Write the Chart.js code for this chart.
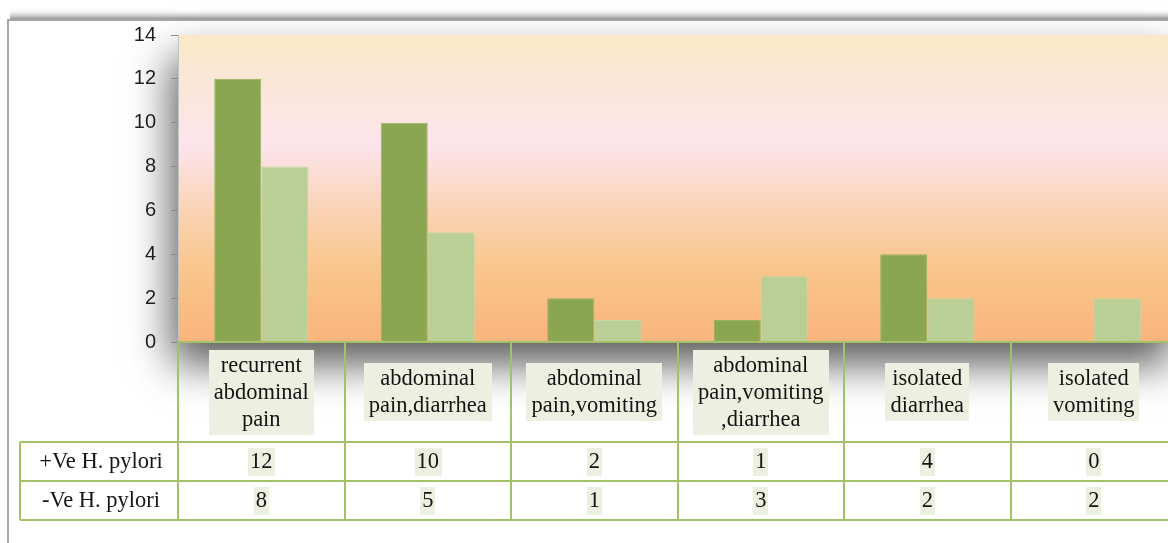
<!DOCTYPE html>
<html lang="en">
<head>
<meta charset="UTF-8">
<title>Symptoms by H. pylori status</title>
<script src="https://cdn.jsdelivr.net/npm/chart.js"></script>
<style>
  html, body { margin: 0; padding: 0; background: #fff; overflow: hidden; }
  #wrap { width: 1180px; height: 543px; }
</style>
</head>
<body>
<div id="wrap"><canvas id="symptomChart" width="1180" height="543"></canvas></div>
<script>
// category labels, one entry per line as they wrap in the table header
const categories = [
  ['recurrent', 'abdominal', 'pain'],
  ['abdominal', 'pain,diarrhea'],
  ['abdominal', 'pain,vomiting'],
  ['abdominal', 'pain,vomiting', ',diarrhea'],
  ['isolated', 'diarrhea'],
  ['isolated', 'vomiting']
];
const seriesNames = ['+Ve H. pylori', '-Ve H. pylori'];
const positiveCounts = [12, 10, 2, 1, 4, 0];
const negativeCounts = [8, 5, 1, 3, 2, 2];
const yMax = 14;
const yStep = 2;

const seriesValues = [positiveCounts, negativeCounts];
const barColors = ['#8aa650', '#b9cf96'];
const barEdges = ['#98b262', '#c4d7a6'];
const lineGreen = '#a3c167';
const labelBg = '#edf0e1';
const serifFont = '22.5px "Liberation Serif", "DejaVu Serif", serif';

// outer frame, its top shadow, and the gradient plot area with a drop shadow
const backdrop = {
  id: 'backdrop',
  beforeDraw(chart) {
    const { ctx, chartArea: a, width } = chart;
    ctx.save();
    const band = ctx.createLinearGradient(0, 8, 0, 20);
    band.addColorStop(0, 'rgba(255,255,255,0)');
    band.addColorStop(1, 'rgba(110,110,110,0.85)');
    ctx.fillStyle = band;
    ctx.fillRect(10, 8, width - 10, 12);
    ctx.strokeStyle = '#a6a6a6';
    ctx.lineWidth = 2;
    ctx.beginPath();
    ctx.moveTo(8, 543);
    ctx.lineTo(8, 20);
    ctx.lineTo(width, 20);
    ctx.stroke();

    const g = ctx.createLinearGradient(0, a.top, 0, a.bottom);
    g.addColorStop(0, '#fae9c8');
    g.addColorStop(0.36, '#fce4ec');
    g.addColorStop(0.56, '#fad4b8');
    g.addColorStop(0.76, '#f9c68b');
    g.addColorStop(1, '#f8b47b');
    ctx.shadowColor = 'rgba(0,0,0,0.65)';
    ctx.shadowBlur = 40;
    ctx.shadowOffsetX = -6;
    ctx.shadowOffsetY = 22;
    ctx.fillStyle = g;
    ctx.fillRect(a.left, a.top, a.right - a.left, a.bottom - a.top);
    ctx.restore();
  }
};

function boxedText(ctx, lines, cx, cy, lineH, padX, padY) {
  const w = Math.max(...lines.map(t => ctx.measureText(t).width));
  const h = lines.length * lineH;
  ctx.fillStyle = labelBg;
  ctx.fillRect(Math.round(cx - w / 2 - padX), Math.round(cy - h / 2 - padY), Math.round(w + padX * 2), Math.round(h + padY * 2));
  ctx.fillStyle = '#141414';
  lines.forEach((t, i) => {
    ctx.fillText(t, cx, cy - h / 2 + lineH * (i + 0.5) + 1);
  });
}

// data table under the plot: category header row plus one row per series
const dataTable = {
  id: 'dataTable',
  afterDraw(chart) {
    const { ctx, chartArea: a, scales: { x } } = chart;
    const n = categories.length;
    const colW = (a.right - a.left) / n;
    const headTop = a.bottom;
    const headBottom = headTop + 100;
    const rowH = 39;
    const tableLeft = 20;

    ctx.save();
    ctx.font = serifFont;
    ctx.textAlign = 'center';
    ctx.textBaseline = 'middle';

    categories.forEach((lines, i) => {
      const cx = x.getPixelForValue(i);
      boxedText(ctx, lines, cx, (headTop + headBottom) / 2, 27, 5, 2);
      seriesValues.forEach((vals, r) => {
        boxedText(ctx, [String(vals[i])], cx, headBottom + rowH * (r + 0.5), 26, 2, 1);
      });
    });

    ctx.fillStyle = '#141414';
    seriesNames.forEach((name, r) => {
      ctx.fillText(name, (tableLeft + a.left) / 2 + 2, headBottom + rowH * (r + 0.5) + 1);
    });

    ctx.strokeStyle = lineGreen;
    ctx.lineWidth = 2;
    ctx.beginPath();
    ctx.moveTo(a.left, headTop);
    ctx.lineTo(chart.width, headTop);
    for (let r = 0; r <= seriesNames.length; r++) {
      const y = headBottom + rowH * r;
      ctx.moveTo(tableLeft, y);
      ctx.lineTo(chart.width, y);
    }
    ctx.moveTo(tableLeft, headBottom);
    ctx.lineTo(tableLeft, headBottom + rowH * seriesNames.length);
    for (let i = 0; i <= n; i++) {
      const xx = Math.round(a.left + colW * i);
      ctx.moveTo(xx, headTop);
      ctx.lineTo(xx, headBottom + rowH * seriesNames.length);
    }
    ctx.stroke();
    ctx.restore();
  }
};

new Chart(document.getElementById('symptomChart'), {
  type: 'bar',
  data: {
    labels: categories,
    datasets: seriesNames.map((name, k) => ({
      label: name,
      data: seriesValues[k],
      backgroundColor: barColors[k],
      borderColor: barEdges[k],
      borderWidth: 1,
      categoryPercentage: 0.565,
      barPercentage: 1.0
    }))
  },
  options: {
    responsive: false,
    animation: false,
    layout: { padding: { left: 0, top: 35, right: 3, bottom: 201 } },
    plugins: {
      legend: { display: false },
      tooltip: { enabled: false }
    },
    scales: {
      x: { display: false },
      y: {
        min: 0,
        max: yMax,
        afterFit(scale) { scale.width = 178; },
        ticks: {
          stepSize: yStep,
          padding: 15,
          color: '#1e1e1e',
          font: { family: '"Liberation Sans", Arial, sans-serif', size: 20 }
        },
        grid: {
          drawOnChartArea: false,
          drawTicks: true,
          tickLength: 7,
          color: '#8c8c8c'
        },
        border: { display: true, color: '#c4c4c4' }
      }
    }
  },
  plugins: [backdrop, dataTable]
});
</script>
</body>
</html>
